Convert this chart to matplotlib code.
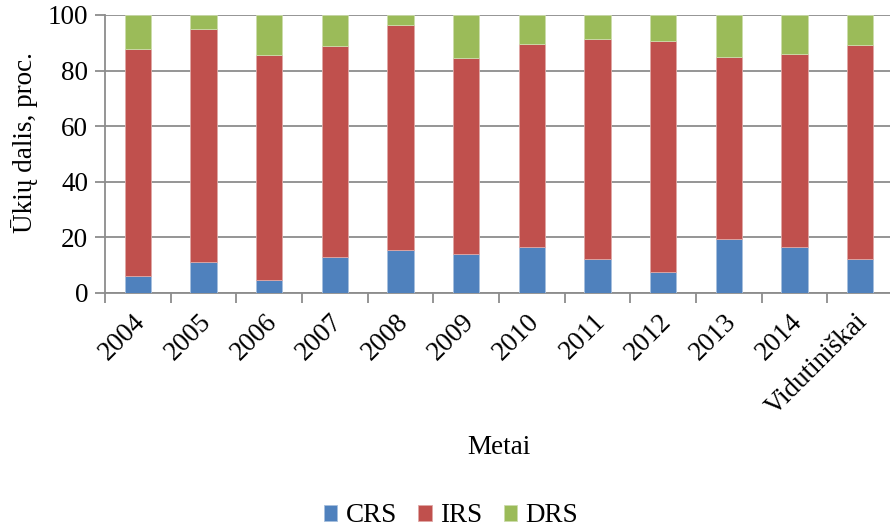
import matplotlib
matplotlib.use("Agg")
import matplotlib.pyplot as plt
import matplotlib.transforms as mtrans
import numpy as np

plt.rcParams['font.family'] = ['Liberation Serif', 'DejaVu Serif']

categories = ["2004", "2005", "2006", "2007", "2008", "2009", "2010",
              "2011", "2012", "2013", "2014", "Vidutiniškai"]
crs = [6.0, 11.1, 4.7, 12.9, 15.3, 13.9, 16.5, 12.2, 7.4, 19.4, 16.5, 12.3]
irs_top = [87.8, 95.0, 85.7, 88.7, 96.4, 84.7, 89.7, 91.4, 90.7, 84.9, 86.1, 89.1]
irs = [t - c for t, c in zip(irs_top, crs)]
drs = [100 - t for t in irs_top]

colors = ["#4F81BD", "#C0504D", "#9BBB59"]
fs = 19.5

fig = plt.figure(figsize=(8.9, 5.29), dpi=100)
ax = fig.add_axes([105 / 890, 1 - 293 / 529, 788 / 890, 278 / 529])

x = np.arange(len(categories))
w = 0.4
ax.bar(x, crs, w, color=colors[0], edgecolor="#A7BFDE", linewidth=0.6, label="CRS", zorder=3)
ax.bar(x, irs, w, bottom=crs, color=colors[1], edgecolor="#DFA8A6", linewidth=0.6, label="IRS", zorder=3)
ax.bar(x, drs, w, bottom=irs_top, color=colors[2], edgecolor="#CDDDAC", linewidth=0.6, label="DRS", zorder=3)

ax.set_xlim(-0.5, len(categories) - 0.5)
ax.set_ylim(0, 100)
ax.set_yticks(np.arange(0, 101, 20))
ax.yaxis.grid(True, color="#8C8C8C", linewidth=1.3, zorder=0)
ax.set_axisbelow(True)

for s in ["top", "right"]:
    ax.spines[s].set_visible(False)
ax.spines["left"].set_color("#8C8C8C")
ax.spines["bottom"].set_color("#8C8C8C")
ax.spines["left"].set_linewidth(1.3)
ax.spines["bottom"].set_linewidth(1.3)

# ticks between categories on x axis
ax.set_xticks(np.arange(-0.5, len(categories) + 0.5, 1), minor=False)
ax.set_xticklabels([])
ax.set_xticks(x, minor=True)
ax.set_xticklabels(categories, minor=True, rotation=45, ha="right", va="center",
                   rotation_mode="anchor", fontsize=fs)
ax.tick_params(axis="x", which="major", length=7, color="#8C8C8C", width=1.3)
ax.tick_params(axis="x", which="minor", length=0, pad=18)
ax.tick_params(axis="y", length=7, color="#8C8C8C", width=1.3, labelsize=fs, pad=5)

offset = mtrans.ScaledTranslation(4 / 100, 0, fig.dpi_scale_trans)
for lbl in ax.get_xticklabels(minor=True):
    lbl.set_transform(lbl.get_transform() + offset)

fig.text(499 / 890, 1 - 448 / 529, "Metai", ha="center", va="center", fontsize=fs)
fig.text(25 / 890, 1 - 143 / 529, "Ūkių dalis, proc.", ha="center", va="center",
         rotation=90, fontsize=fs)

fig.legend(loc="center", bbox_to_anchor=(451 / 890, 1 - 516 / 529), ncol=3,
           frameon=False, fontsize=fs, handlelength=0.5, handleheight=0.5,
           handletextpad=0.3, columnspacing=0.8, borderaxespad=0)

fig.savefig("out.png", dpi=100)
